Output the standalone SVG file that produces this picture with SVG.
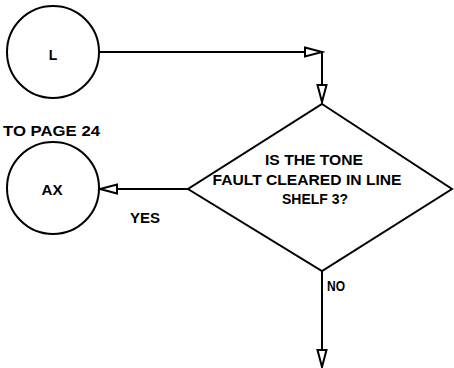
<svg xmlns="http://www.w3.org/2000/svg" width="454" height="368" viewBox="0 0 454 368">
<style>
.s{fill:none;stroke:#000;stroke-width:2}
.n{fill:#fff;stroke:#000;stroke-width:2}
.t{font-family:"Liberation Sans",Arial,sans-serif;font-weight:bold;font-size:14px;fill:#000}
</style>
<defs>
<marker id="a" markerWidth="22" markerHeight="14" refX="19" refY="7" orient="auto" markerUnits="userSpaceOnUse">
<path d="M2,2.5 L19,7 L2,11.5 Z" fill="#fff" stroke="#000" stroke-width="2"/>
</marker>
</defs>
<rect width="454" height="368" fill="#fff"/>
<g id="connectors">
<path class="s" d="M99,52 H322" marker-end="url(#a)"/>
<path class="s" d="M322,52 V102" marker-end="url(#a)"/>
<path class="s" d="M188,189 H100" marker-end="url(#a)"/>
<path class="s" d="M322,271 V367" marker-end="url(#a)"/>
</g>
<g id="L">
<circle class="n" cx="53" cy="52" r="46"/>
<text class="t" x="53" y="60" text-anchor="middle">L</text>
</g>
<g id="AX">
<text class="t" x="3" y="136" font-size="13" textLength="97" lengthAdjust="spacingAndGlyphs">TO PAGE 24</text>
<circle class="n" cx="53" cy="188" r="46"/>
<text class="t" x="52" y="195" text-anchor="middle" textLength="21" lengthAdjust="spacingAndGlyphs">AX</text>
</g>
<g id="decision">
<polygon class="n" points="322,104 452,189 322,271 188,189"/>
<text class="t" x="314" y="165" text-anchor="middle" textLength="98" lengthAdjust="spacingAndGlyphs">IS THE TONE</text>
<text class="t" x="307" y="185" text-anchor="middle" textLength="189" lengthAdjust="spacingAndGlyphs">FAULT CLEARED IN LINE</text>
<text class="t" x="315" y="204" text-anchor="middle" textLength="66" lengthAdjust="spacingAndGlyphs">SHELF 3?</text>
</g>
<g id="labels">
<text class="t" x="130" y="223" textLength="30" lengthAdjust="spacingAndGlyphs">YES</text>
<text class="t" x="327" y="291" font-size="12" textLength="18" lengthAdjust="spacingAndGlyphs">NO</text>
</g>
</svg>
